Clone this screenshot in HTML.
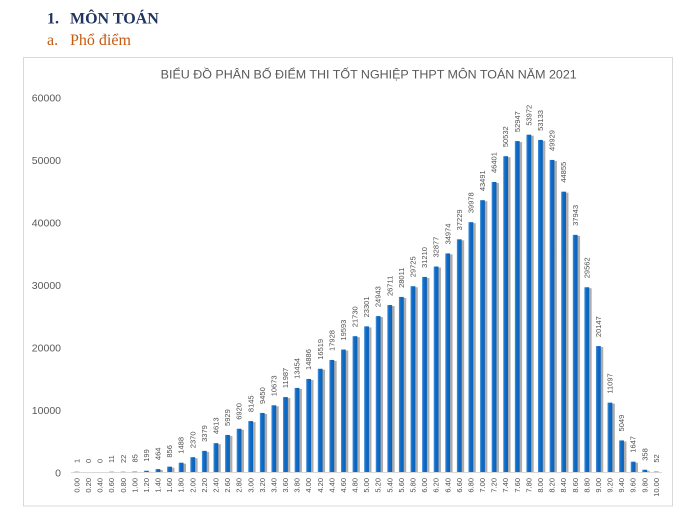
<!DOCTYPE html>
<html><head><meta charset="utf-8">
<style>
html,body{margin:0;padding:0;background:#fff;}
svg{display:block;}
.b{fill:url(#bg);}
.s{fill:rgba(0,0,0,0.32);}
.v,.x{font-family:"Liberation Sans",sans-serif;font-size:7.5px;fill:#505050;}
.x{text-anchor:end;}
.y{font-family:"Liberation Sans",sans-serif;font-size:10.5px;fill:#595959;text-anchor:end;}
</style></head>
<body>
<svg width="680" height="513" viewBox="0 0 680 513" xmlns="http://www.w3.org/2000/svg">
<defs>
<linearGradient id="bg" x1="0" x2="1" y1="0" y2="0">
<stop offset="0" stop-color="#4a94dc"/><stop offset="0.35" stop-color="#0f6cc8"/><stop offset="1" stop-color="#0a60b6"/>
</linearGradient>
</defs>
<rect width="680" height="513" fill="#fff"/>
<text x="47" y="23.3" font-family="Liberation Serif,serif" font-weight="bold" font-size="16" fill="#1f3461">1.</text>
<text x="70" y="23.3" font-family="Liberation Serif,serif" font-weight="bold" font-size="16" fill="#1f3461">MÔN TOÁN</text>
<text x="47" y="45" font-family="Liberation Serif,serif" font-size="16" fill="#c55a11">a.</text>
<text x="70" y="45" font-family="Liberation Serif,serif" font-size="16" fill="#c55a11">Phổ điểm</text>
<rect x="23.5" y="57.5" width="649" height="448.5" fill="#fff" stroke="#d9d9d9" stroke-width="1"/>
<text x="368.7" y="78.7" font-family="Liberation Sans,sans-serif" font-size="12.4" fill="#595959" text-anchor="middle" textLength="416" lengthAdjust="spacingAndGlyphs">BIỂU ĐỒ PHÂN BỐ ĐIỂM THI TỐT NGHIỆP THPT MÔN TOÁN NĂM 2021</text>
<text class="y" x="61" y="101.5">60000</text>
<text class="y" x="61" y="164">50000</text>
<text class="y" x="61" y="226.5">40000</text>
<text class="y" x="61" y="289">30000</text>
<text class="y" x="61" y="351.5">20000</text>
<text class="y" x="61" y="414">10000</text>
<text class="y" x="61" y="476.5">0</text>
<line x1="71" y1="472.5" x2="662" y2="472.5" stroke="#d9d9d9" stroke-width="1"/>

<g transform="translate(76.8)"><rect x="-2.4" y="471.3" width="4.8" height="1" fill="#a9cbec"/><text class="v" transform="translate(2.6,463) rotate(-90)">1</text><text class="x" transform="translate(2.6,478) rotate(-90)">0.00</text></g>
<g transform="translate(88.39)"><text class="v" transform="translate(2.6,463) rotate(-90)">0</text><text class="x" transform="translate(2.6,478) rotate(-90)">0.20</text></g>
<g transform="translate(99.98)"><text class="v" transform="translate(2.6,463) rotate(-90)">0</text><text class="x" transform="translate(2.6,478) rotate(-90)">0.40</text></g>
<g transform="translate(111.57)"><rect x="-2.4" y="471.3" width="4.8" height="1" fill="#a9cbec"/><text class="v" transform="translate(2.6,463) rotate(-90)">11</text><text class="x" transform="translate(2.6,478) rotate(-90)">0.60</text></g>
<g transform="translate(123.16)"><rect x="-2.4" y="471.3" width="4.8" height="1" fill="#a9cbec"/><text class="v" transform="translate(2.6,463) rotate(-90)">22</text><text class="x" transform="translate(2.6,478) rotate(-90)">0.80</text></g>
<g transform="translate(134.75)"><rect x="-2.4" y="471.2" width="4.8" height="1" fill="#8dbbe6"/><text class="v" transform="translate(2.6,462.5) rotate(-90)">85</text><text class="x" transform="translate(2.6,478) rotate(-90)">1.00</text></g>
<g transform="translate(146.34)"><rect class="s" x="0.1" y="471.76" width="4.8" height="0.24"/><rect class="b" x="-2.4" y="470.76" width="4.8" height="1.24"/><text class="v" transform="translate(2.6,461.76) rotate(-90)">199</text><text class="x" transform="translate(2.6,478) rotate(-90)">1.20</text></g>
<g transform="translate(157.93)"><rect class="s" x="0.1" y="470.1" width="4.8" height="1.9"/><rect class="b" x="-2.4" y="469.1" width="4.8" height="2.9"/><text class="v" transform="translate(2.6,460.1) rotate(-90)">464</text><text class="x" transform="translate(2.6,478) rotate(-90)">1.40</text></g>
<g transform="translate(169.52)"><rect class="s" x="0.1" y="467.65" width="4.8" height="4.35"/><rect class="b" x="-2.4" y="466.65" width="4.8" height="5.35"/><text class="v" transform="translate(2.6,457.65) rotate(-90)">856</text><text class="x" transform="translate(2.6,478) rotate(-90)">1.60</text></g>
<g transform="translate(181.11)"><rect class="s" x="0.1" y="463.7" width="4.8" height="8.3"/><rect class="b" x="-2.4" y="462.7" width="4.8" height="9.3"/><text class="v" transform="translate(2.6,453.7) rotate(-90)">1488</text><text class="x" transform="translate(2.6,478) rotate(-90)">1.80</text></g>
<g transform="translate(192.7)"><rect class="s" x="0.1" y="458.19" width="4.8" height="13.81"/><rect class="b" x="-2.4" y="457.19" width="4.8" height="14.81"/><text class="v" transform="translate(2.6,448.19) rotate(-90)">2370</text><text class="x" transform="translate(2.6,478) rotate(-90)">2.00</text></g>
<g transform="translate(204.29)"><rect class="s" x="0.1" y="451.88" width="4.8" height="20.12"/><rect class="b" x="-2.4" y="450.88" width="4.8" height="21.12"/><text class="v" transform="translate(2.6,441.88) rotate(-90)">3379</text><text class="x" transform="translate(2.6,478) rotate(-90)">2.20</text></g>
<g transform="translate(215.88)"><rect class="s" x="0.1" y="444.17" width="4.8" height="27.83"/><rect class="b" x="-2.4" y="443.17" width="4.8" height="28.83"/><text class="v" transform="translate(2.6,434.17) rotate(-90)">4613</text><text class="x" transform="translate(2.6,478) rotate(-90)">2.40</text></g>
<g transform="translate(227.47)"><rect class="s" x="0.1" y="435.94" width="4.8" height="36.06"/><rect class="b" x="-2.4" y="434.94" width="4.8" height="37.06"/><text class="v" transform="translate(2.6,425.94) rotate(-90)">5929</text><text class="x" transform="translate(2.6,478) rotate(-90)">2.60</text></g>
<g transform="translate(239.06)"><rect class="s" x="0.1" y="429.75" width="4.8" height="42.25"/><rect class="b" x="-2.4" y="428.75" width="4.8" height="43.25"/><text class="v" transform="translate(2.6,419.75) rotate(-90)">6920</text><text class="x" transform="translate(2.6,478) rotate(-90)">2.80</text></g>
<g transform="translate(250.65)"><rect class="s" x="0.1" y="422.09" width="4.8" height="49.91"/><rect class="b" x="-2.4" y="421.09" width="4.8" height="50.91"/><text class="v" transform="translate(2.6,412.09) rotate(-90)">8145</text><text class="x" transform="translate(2.6,478) rotate(-90)">3.00</text></g>
<g transform="translate(262.24)"><rect class="s" x="0.1" y="413.94" width="4.8" height="58.06"/><rect class="b" x="-2.4" y="412.94" width="4.8" height="59.06"/><text class="v" transform="translate(2.6,403.94) rotate(-90)">9450</text><text class="x" transform="translate(2.6,478) rotate(-90)">3.20</text></g>
<g transform="translate(273.83)"><rect class="s" x="0.1" y="406.29" width="4.8" height="65.71"/><rect class="b" x="-2.4" y="405.29" width="4.8" height="66.71"/><text class="v" transform="translate(2.6,396.29) rotate(-90)">10673</text><text class="x" transform="translate(2.6,478) rotate(-90)">3.40</text></g>
<g transform="translate(285.42)"><rect class="s" x="0.1" y="398.08" width="4.8" height="73.92"/><rect class="b" x="-2.4" y="397.08" width="4.8" height="74.92"/><text class="v" transform="translate(2.6,388.08) rotate(-90)">11987</text><text class="x" transform="translate(2.6,478) rotate(-90)">3.60</text></g>
<g transform="translate(297.01)"><rect class="s" x="0.1" y="388.91" width="4.8" height="83.09"/><rect class="b" x="-2.4" y="387.91" width="4.8" height="84.09"/><text class="v" transform="translate(2.6,378.91) rotate(-90)">13454</text><text class="x" transform="translate(2.6,478) rotate(-90)">3.80</text></g>
<g transform="translate(308.6)"><rect class="s" x="0.1" y="379.96" width="4.8" height="92.04"/><rect class="b" x="-2.4" y="378.96" width="4.8" height="93.04"/><text class="v" transform="translate(2.6,369.96) rotate(-90)">14886</text><text class="x" transform="translate(2.6,478) rotate(-90)">4.00</text></g>
<g transform="translate(320.19)"><rect class="s" x="0.1" y="369.76" width="4.8" height="102.24"/><rect class="b" x="-2.4" y="368.76" width="4.8" height="103.24"/><text class="v" transform="translate(2.6,359.76) rotate(-90)">16519</text><text class="x" transform="translate(2.6,478) rotate(-90)">4.20</text></g>
<g transform="translate(331.78)"><rect class="s" x="0.1" y="360.95" width="4.8" height="111.05"/><rect class="b" x="-2.4" y="359.95" width="4.8" height="112.05"/><text class="v" transform="translate(2.6,350.95) rotate(-90)">17928</text><text class="x" transform="translate(2.6,478) rotate(-90)">4.40</text></g>
<g transform="translate(343.37)"><rect class="s" x="0.1" y="350.54" width="4.8" height="121.46"/><rect class="b" x="-2.4" y="349.54" width="4.8" height="122.46"/><text class="v" transform="translate(2.6,340.54) rotate(-90)">19593</text><text class="x" transform="translate(2.6,478) rotate(-90)">4.60</text></g>
<g transform="translate(354.96)"><rect class="s" x="0.1" y="337.19" width="4.8" height="134.81"/><rect class="b" x="-2.4" y="336.19" width="4.8" height="135.81"/><text class="v" transform="translate(2.6,327.19) rotate(-90)">21730</text><text class="x" transform="translate(2.6,478) rotate(-90)">4.80</text></g>
<g transform="translate(366.55)"><rect class="s" x="0.1" y="327.37" width="4.8" height="144.63"/><rect class="b" x="-2.4" y="326.37" width="4.8" height="145.63"/><text class="v" transform="translate(2.6,317.37) rotate(-90)">23301</text><text class="x" transform="translate(2.6,478) rotate(-90)">5.00</text></g>
<g transform="translate(378.14)"><rect class="s" x="0.1" y="317.11" width="4.8" height="154.89"/><rect class="b" x="-2.4" y="316.11" width="4.8" height="155.89"/><text class="v" transform="translate(2.6,307.11) rotate(-90)">24943</text><text class="x" transform="translate(2.6,478) rotate(-90)">5.20</text></g>
<g transform="translate(389.73)"><rect class="s" x="0.1" y="306.06" width="4.8" height="165.94"/><rect class="b" x="-2.4" y="305.06" width="4.8" height="166.94"/><text class="v" transform="translate(2.6,296.06) rotate(-90)">26711</text><text class="x" transform="translate(2.6,478) rotate(-90)">5.40</text></g>
<g transform="translate(401.32)"><rect class="s" x="0.1" y="297.93" width="4.8" height="174.07"/><rect class="b" x="-2.4" y="296.93" width="4.8" height="175.07"/><text class="v" transform="translate(2.6,287.93) rotate(-90)">28011</text><text class="x" transform="translate(2.6,478) rotate(-90)">5.60</text></g>
<g transform="translate(412.91)"><rect class="s" x="0.1" y="287.22" width="4.8" height="184.78"/><rect class="b" x="-2.4" y="286.22" width="4.8" height="185.78"/><text class="v" transform="translate(2.6,277.22) rotate(-90)">29725</text><text class="x" transform="translate(2.6,478) rotate(-90)">5.80</text></g>
<g transform="translate(424.5)"><rect class="s" x="0.1" y="277.94" width="4.8" height="194.06"/><rect class="b" x="-2.4" y="276.94" width="4.8" height="195.06"/><text class="v" transform="translate(2.6,267.94) rotate(-90)">31210</text><text class="x" transform="translate(2.6,478) rotate(-90)">6.00</text></g>
<g transform="translate(436.09)"><rect class="s" x="0.1" y="267.52" width="4.8" height="204.48"/><rect class="b" x="-2.4" y="266.52" width="4.8" height="205.48"/><text class="v" transform="translate(2.6,257.52) rotate(-90)">32877</text><text class="x" transform="translate(2.6,478) rotate(-90)">6.20</text></g>
<g transform="translate(447.68)"><rect class="s" x="0.1" y="254.41" width="4.8" height="217.59"/><rect class="b" x="-2.4" y="253.41" width="4.8" height="218.59"/><text class="v" transform="translate(2.6,244.41) rotate(-90)">34974</text><text class="x" transform="translate(2.6,478) rotate(-90)">6.40</text></g>
<g transform="translate(459.27)"><rect class="s" x="0.1" y="240.32" width="4.8" height="231.68"/><rect class="b" x="-2.4" y="239.32" width="4.8" height="232.68"/><text class="v" transform="translate(2.6,230.32) rotate(-90)">37229</text><text class="x" transform="translate(2.6,478) rotate(-90)">6.60</text></g>
<g transform="translate(470.86)"><rect class="s" x="0.1" y="223.14" width="4.8" height="248.86"/><rect class="b" x="-2.4" y="222.14" width="4.8" height="249.86"/><text class="v" transform="translate(2.6,213.14) rotate(-90)">39978</text><text class="x" transform="translate(2.6,478) rotate(-90)">6.80</text></g>
<g transform="translate(482.45)"><rect class="s" x="0.1" y="201.18" width="4.8" height="270.82"/><rect class="b" x="-2.4" y="200.18" width="4.8" height="271.82"/><text class="v" transform="translate(2.6,191.18) rotate(-90)">43491</text><text class="x" transform="translate(2.6,478) rotate(-90)">7.00</text></g>
<g transform="translate(494.04)"><rect class="s" x="0.1" y="182.99" width="4.8" height="289.01"/><rect class="b" x="-2.4" y="181.99" width="4.8" height="290.01"/><text class="v" transform="translate(2.6,172.99) rotate(-90)">46401</text><text class="x" transform="translate(2.6,478) rotate(-90)">7.20</text></g>
<g transform="translate(505.63)"><rect class="s" x="0.1" y="157.18" width="4.8" height="314.82"/><rect class="b" x="-2.4" y="156.18" width="4.8" height="315.82"/><text class="v" transform="translate(2.6,147.18) rotate(-90)">50532</text><text class="x" transform="translate(2.6,478) rotate(-90)">7.40</text></g>
<g transform="translate(517.22)"><rect class="s" x="0.1" y="142.08" width="4.8" height="329.92"/><rect class="b" x="-2.4" y="141.08" width="4.8" height="330.92"/><text class="v" transform="translate(2.6,132.08) rotate(-90)">52947</text><text class="x" transform="translate(2.6,478) rotate(-90)">7.60</text></g>
<g transform="translate(528.81)"><rect class="s" x="0.1" y="135.68" width="4.8" height="336.32"/><rect class="b" x="-2.4" y="134.68" width="4.8" height="337.32"/><text class="v" transform="translate(2.6,125.68) rotate(-90)">53972</text><text class="x" transform="translate(2.6,478) rotate(-90)">7.80</text></g>
<g transform="translate(540.4)"><rect class="s" x="0.1" y="140.92" width="4.8" height="331.08"/><rect class="b" x="-2.4" y="139.92" width="4.8" height="332.08"/><text class="v" transform="translate(2.6,130.92) rotate(-90)">53133</text><text class="x" transform="translate(2.6,478) rotate(-90)">8.00</text></g>
<g transform="translate(551.99)"><rect class="s" x="0.1" y="160.94" width="4.8" height="311.06"/><rect class="b" x="-2.4" y="159.94" width="4.8" height="312.06"/><text class="v" transform="translate(2.6,150.94) rotate(-90)">49929</text><text class="x" transform="translate(2.6,478) rotate(-90)">8.20</text></g>
<g transform="translate(563.58)"><rect class="s" x="0.1" y="192.66" width="4.8" height="279.34"/><rect class="b" x="-2.4" y="191.66" width="4.8" height="280.34"/><text class="v" transform="translate(2.6,182.66) rotate(-90)">44855</text><text class="x" transform="translate(2.6,478) rotate(-90)">8.40</text></g>
<g transform="translate(575.17)"><rect class="s" x="0.1" y="235.86" width="4.8" height="236.14"/><rect class="b" x="-2.4" y="234.86" width="4.8" height="237.14"/><text class="v" transform="translate(2.6,225.86) rotate(-90)">37943</text><text class="x" transform="translate(2.6,478) rotate(-90)">8.60</text></g>
<g transform="translate(586.76)"><rect class="s" x="0.1" y="288.24" width="4.8" height="183.76"/><rect class="b" x="-2.4" y="287.24" width="4.8" height="184.76"/><text class="v" transform="translate(2.6,278.24) rotate(-90)">29562</text><text class="x" transform="translate(2.6,478) rotate(-90)">8.80</text></g>
<g transform="translate(598.35)"><rect class="s" x="0.1" y="347.08" width="4.8" height="124.92"/><rect class="b" x="-2.4" y="346.08" width="4.8" height="125.92"/><text class="v" transform="translate(2.6,337.08) rotate(-90)">20147</text><text class="x" transform="translate(2.6,478) rotate(-90)">9.00</text></g>
<g transform="translate(609.94)"><rect class="s" x="0.1" y="403.64" width="4.8" height="68.36"/><rect class="b" x="-2.4" y="402.64" width="4.8" height="69.36"/><text class="v" transform="translate(2.6,393.64) rotate(-90)">11097</text><text class="x" transform="translate(2.6,478) rotate(-90)">9.20</text></g>
<g transform="translate(621.53)"><rect class="s" x="0.1" y="441.44" width="4.8" height="30.56"/><rect class="b" x="-2.4" y="440.44" width="4.8" height="31.56"/><text class="v" transform="translate(2.6,431.44) rotate(-90)">5049</text><text class="x" transform="translate(2.6,478) rotate(-90)">9.40</text></g>
<g transform="translate(633.12)"><rect class="s" x="0.1" y="462.71" width="4.8" height="9.29"/><rect class="b" x="-2.4" y="461.71" width="4.8" height="10.29"/><text class="v" transform="translate(2.6,452.71) rotate(-90)">1647</text><text class="x" transform="translate(2.6,478) rotate(-90)">9.60</text></g>
<g transform="translate(644.71)"><rect class="s" x="0.1" y="470.76" width="4.8" height="1.24"/><rect class="b" x="-2.4" y="469.76" width="4.8" height="2.24"/><text class="v" transform="translate(2.6,460.76) rotate(-90)">358</text><text class="x" transform="translate(2.6,478) rotate(-90)">9.80</text></g>
<g transform="translate(656.3)"><rect x="-2.4" y="471.2" width="4.8" height="1" fill="#8dbbe6"/><text class="v" transform="translate(2.6,462.68) rotate(-90)">52</text><text class="x" transform="translate(2.6,478) rotate(-90)">10.00</text></g>
</svg>
</body></html>
